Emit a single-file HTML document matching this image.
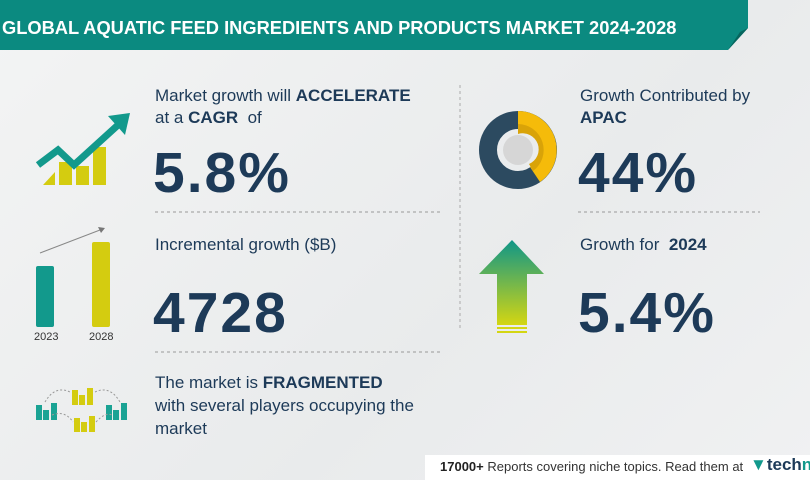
<!DOCTYPE html>
<html><head><style>
body{margin:0}
#c{position:relative;width:810px;height:480px;overflow:hidden;background:linear-gradient(135deg,#f3f4f4,#e9ebec 60%,#f0f1f2);font-family:"Liberation Sans",sans-serif;color:#1d3a58}
.t{position:absolute;white-space:nowrap}
.s{font-size:17px;line-height:22px}
.big{font-size:57px;font-weight:bold;letter-spacing:2px}
</style></head><body><div id="c">
<svg width="810" height="480" style="position:absolute;left:0;top:0">
<polygon points="0,0 748,0 748,28 728,50 0,50" fill="#0b8a80"/>
<polygon points="728,50 748,28 740,32" fill="#06655e"/>
<line x1="155" y1="212" x2="440" y2="212" stroke="#999" stroke-dasharray="3,3"/>
<line x1="155" y1="352" x2="440" y2="352" stroke="#999" stroke-dasharray="3,3"/>
<line x1="578" y1="212" x2="760" y2="212" stroke="#999" stroke-dasharray="3,3"/>
<line x1="460" y1="85" x2="460" y2="330" stroke="#aaa" stroke-dasharray="3,3"/>
<polygon points="43,185 55,172 55,185" fill="#d4cc10"/>
<rect x="59" y="162" width="13" height="23" fill="#d4cc10"/>
<rect x="76" y="166" width="13" height="19" fill="#d4cc10"/>
<rect x="93" y="147" width="13" height="38" fill="#d4cc10"/>
<polyline points="38,165 58,150 74,165 118,125" fill="none" stroke="#12998c" stroke-width="7"/>
<polygon points="108,116 130,113 125,135" fill="#12998c"/>
<rect x="36" y="266" width="18" height="61" rx="2" fill="#12998c"/>
<rect x="92" y="242" width="18" height="85" rx="2" fill="#d4cc10"/>
<line x1="40" y1="253" x2="100" y2="230" stroke="#888" stroke-width="1"/>
<polygon points="98,227 105,228 101,233" fill="#777"/>
<text x="34" y="340" font-size="11" fill="#333">2023</text>
<text x="89" y="340" font-size="11" fill="#333">2028</text>
<g fill="#1aa394"><rect x="36" y="405" width="6" height="15"/><rect x="43" y="410" width="6" height="10"/><rect x="51" y="403" width="6" height="17"/>
<rect x="106" y="405" width="6" height="15"/><rect x="113" y="410" width="6" height="10"/><rect x="121" y="403" width="6" height="17"/></g>
<g fill="#d4cc10"><rect x="72" y="390" width="6" height="15"/><rect x="79" y="395" width="6" height="10"/><rect x="87" y="388" width="6" height="17"/>
<rect x="74" y="418" width="6" height="14"/><rect x="81" y="422" width="6" height="10"/><rect x="89" y="416" width="6" height="16"/></g>
<path d="M45,402 Q55,385 70,392 M95,392 Q110,385 120,402 M52,415 Q65,410 73,422 M96,422 Q105,412 112,415" fill="none" stroke="#999" stroke-dasharray="2,2"/>
<circle cx="518" cy="150" r="30" fill="none" stroke="#2c4a60" stroke-width="18"/>
<path d="M518,111 A39,39 0 0 1 540,182 L530,167 A20,20 0 0 0 518,130 Z" fill="#f5bb0a"/>
<path d="M518,124 A26,26 0 0 1 533,171 L529,164 A16,16 0 0 0 518,134 Z" fill="#d9a308"/>
<circle cx="518" cy="150" r="15" fill="#d6d6d6"/>
<defs><linearGradient id="g" x1="0" y1="0" x2="0" y2="1"><stop offset="0" stop-color="#0f9688"/><stop offset="1" stop-color="#d4d612"/></linearGradient></defs>
<polygon points="512,240 544,274 527,274 527,325 497,325 497,274 479,274" fill="url(#g)"/>
<rect x="497" y="327" width="30" height="2" fill="#d4d612"/>
<rect x="497" y="331" width="30" height="2" fill="#d4d612"/>
<rect x="425" y="455" width="385" height="25" fill="#fff"/>
</svg>
<div class="t" style="left:2px;top:17px;color:#fff;font-size:18.3px;font-weight:bold">GLOBAL AQUATIC FEED INGREDIENTS AND PRODUCTS MARKET 2024-2028</div>
<div class="t s" style="left:155px;top:85px">Market growth will <b>ACCELERATE</b><br>at a <b>CAGR</b>&nbsp; of</div>
<div class="t big" style="left:153px;top:140px">5.8%</div>
<div class="t s" style="left:155px;top:234px">Incremental growth ($B)</div>
<div class="t big" style="left:153px;top:280px">4728</div>
<div class="t s" style="left:155px;top:371px;line-height:23px">The market is <b>FRAGMENTED</b><br>with several players occupying the<br>market</div>
<div class="t s" style="left:580px;top:85px">Growth Contributed by<br><b>APAC</b></div>
<div class="t big" style="left:578px;top:140px">44%</div>
<div class="t s" style="left:580px;top:234px">Growth for&nbsp; <b>2024</b></div>
<div class="t big" style="left:578px;top:280px">5.4%</div>
<div class="t" style="left:440px;top:459px;font-size:13px;color:#333"><b style="color:#222">17000+</b> Reports covering niche topics. Read them at</div>
<div class="t" style="left:750px;top:455px;font-size:17px;font-weight:bold;color:#1d3a58"><span style="color:#12998c">&#9660;</span>tech<span style="color:#12998c">nav</span></div>
</div></body></html>
